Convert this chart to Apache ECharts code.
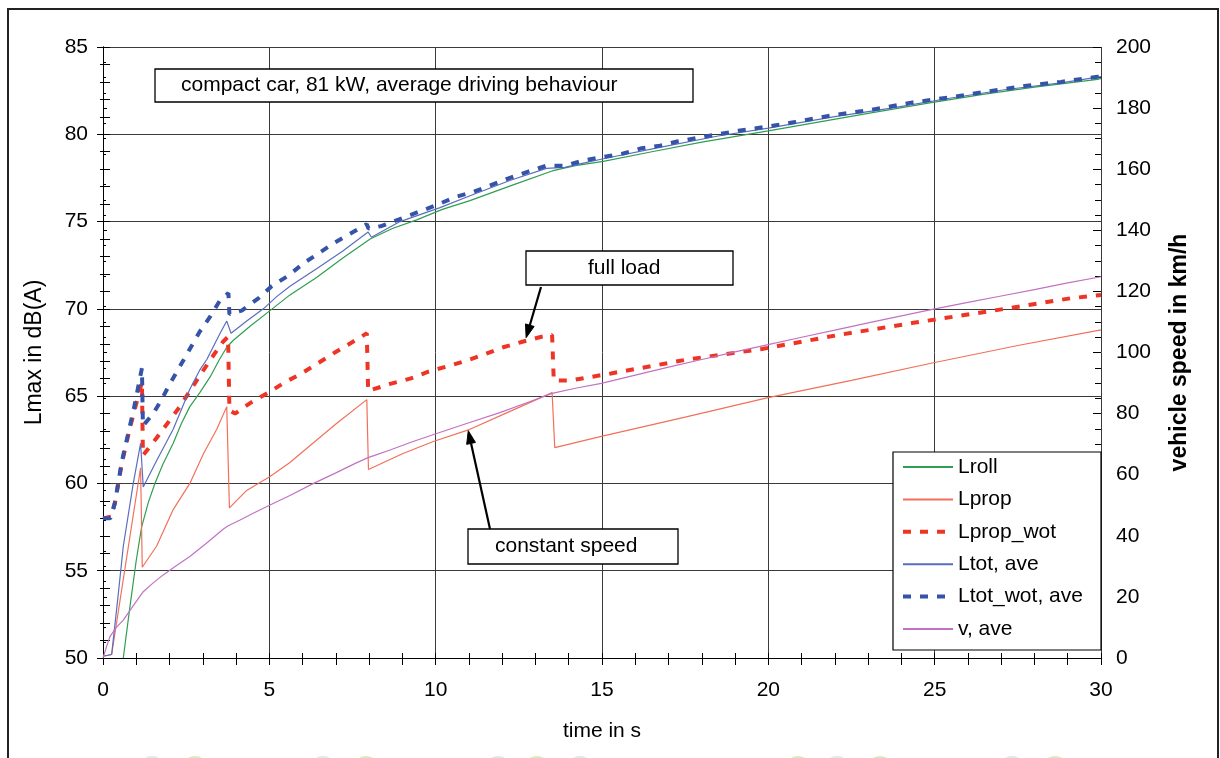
<!DOCTYPE html>
<html><head><meta charset="utf-8">
<script src="https://cdn.jsdelivr.net/npm/echarts@6/dist/echarts.min.js"></script>
<style>html,body{margin:0;padding:0;background:#fff}#c{width:1220px;height:758px}</style>
</head><body><div id="c"></div>
<script>
// ---- data ----
const seriesNames = ['Lroll', 'Lprop', 'Lprop_wot', 'Ltot, ave', 'Ltot_wot, ave', 'v, ave'];

const tLroll = [0.61,0.8,1.0,1.16,1.36,1.56,1.8,2.11,2.35,2.61,2.91,3.22,3.5,3.72,3.92,4.42,5.02,5.62,6.42,7.2,8.03,8.7,9.43,10.2,11.03,12.33,13.5,14.2,15.04,16.5,18.0,20.0,21.5,23.0,24.85,26.5,28.0,29.9,30];
const lroll  = [50.0,52.8,55.6,57.5,58.9,60.0,61.1,62.3,63.4,64.4,65.2,66.1,67.1,67.8,68.2,69.0,69.9,70.8,71.8,72.9,74.0,74.6,75.1,75.7,76.2,77.1,77.9,78.2,78.45,79.0,79.55,80.2,80.7,81.2,81.8,82.3,82.7,83.15,83.2];

const tLprop = [0,0.26,1.13,1.18,1.61,2.11,2.61,3.02,3.42,3.72,3.8,4.32,5.02,5.62,6.12,7.0,7.93,7.98,9.0,9.93,11.03,12.2,13.5,13.58,14.98,17.5,19.96,22.5,24.93,27.5,30];
const lprop  = [50.1,50.2,60.9,55.2,56.4,58.5,60.0,61.7,63.1,64.4,58.6,59.6,60.4,61.2,62.0,63.4,64.8,60.8,61.7,62.4,63.1,64.1,65.2,62.05,62.7,63.8,64.9,65.9,66.9,67.9,68.8];

const tLpropWot = [0,0.25,0.36,0.56,0.81,1.17,1.2,1.61,1.96,2.31,2.92,3.27,3.6,3.76,3.8,3.97,4.42,4.97,5.47,5.97,6.47,6.97,7.5,7.93,7.97,8.63,9.23,9.78,10.33,10.88,11.48,12.03,12.58,13.18,13.5,13.55,14.06,15.27,17.57,19.81,22.1,24.36,26.77,29.07,30];
const lpropWot  = [58.0,58.1,58.9,61.1,63.2,65.8,61.6,62.6,63.5,64.4,66.2,67.2,68.1,68.4,64.2,64.0,64.6,65.2,65.8,66.3,66.9,67.5,68.1,68.6,65.3,65.7,66.0,66.4,66.7,67.0,67.4,67.8,68.1,68.4,68.5,65.9,65.9,66.3,67.1,67.7,68.5,69.2,69.9,70.6,70.8];

const tLtot = [0,0.26,0.45,0.61,0.91,1.13,1.21,1.61,2.11,2.61,2.91,3.12,3.52,3.72,3.85,4.32,4.82,5.22,5.62,6.42,7.2,7.97,8.07,8.93,10.13,11.13,12.23,13.33,13.88,14.44,15.04,16.74,18.49,20.0,21.95,23.7,25.4,27.1,28.8,30];
const ltot  = [50.1,50.2,53.5,56.4,60.0,62.3,59.8,61.3,63.1,65.4,66.5,67.1,68.6,69.3,68.6,69.3,70.0,70.7,71.3,72.3,73.3,74.4,74.1,75.0,75.8,76.55,77.35,78.05,78.1,78.35,78.6,79.25,79.9,80.35,81.0,81.5,82.05,82.55,82.95,83.3];

const tLtotWot = [0,0.22,0.36,0.56,0.81,0.93,1.17,1.2,1.51,1.76,2.01,2.31,2.61,2.91,3.22,3.52,3.77,3.8,4.17,4.67,5.07,5.57,6.02,6.97,7.93,7.98,8.38,9.0,10.03,10.58,11.13,11.68,12.23,12.78,13.33,13.88,14.44,15.04,15.64,16.19,16.74,17.29,17.89,18.49,19.1,20.0,20.8,21.95,23.1,24.25,25.4,26.56,27.7,28.8,29.9,30];
const ltotWot  = [58.0,58.0,58.9,61.2,63.3,64.3,66.6,63.3,64.0,64.8,65.7,66.7,67.7,68.7,69.55,70.5,70.9,69.7,69.9,70.6,71.3,71.9,72.6,73.8,74.85,74.6,74.75,75.2,75.95,76.4,76.7,77.1,77.5,77.86,78.2,78.2,78.5,78.7,78.9,79.2,79.35,79.6,79.8,80.0,80.2,80.45,80.7,81.1,81.4,81.8,82.1,82.44,82.77,83.0,83.3,83.3];

const tV  = [0,0.1,0.21,0.4,0.61,0.9,1.21,1.5,1.81,2.2,2.61,3.1,3.62,3.75,4.12,4.5,5.02,5.62,6.3,7.0,7.6,7.95,8.1,8.63,9.3,10.03,11.0,11.93,12.8,13.5,14.2,14.98,16,17,18,19,19.96,21,22,23,24,24.93,26,27,28,29,30];
const vAve = [0,3.5,7.0,10.0,12.4,17.0,21.7,24.5,27.2,30.2,33.2,37.5,42.2,43.2,45.2,47.3,50.1,53.2,57.0,60.6,63.8,65.5,66.1,68.1,70.8,73.5,77.0,80.3,83.8,86.6,88.3,89.9,92.6,95.2,97.7,100.2,102.5,105.0,107.3,109.7,112.0,114.1,116.4,118.5,120.6,122.8,124.8];

const xRange = [0, 30, 5];      // min, max, interval (s)
const yLeftRange = [50, 85, 5]; // dB(A)
const yRightRange = [0, 200, 20]; // km/h

const titleText = 'compact car, 81 kW, average driving behaviour';
const fullLoadText = 'full load';
const constSpeedText = 'constant speed';
const fullLoadTip = [12.72, 68.35];   // data point the arrow points to (s, dB)
const constSpeedTip = [10.98, 74.4];  // (s, km/h)

// ---- chart ----
const FONT = '"Liberation Sans", Arial, sans-serif';
const zip = (a, b) => a.map((t, i) => [t, b[i]]);
const colors = ['#2f9e50', '#f2705a', '#ee3424', '#5a6dbf', '#3553a8', '#c272c2'];

const chart = echarts.init(document.getElementById('c'), null, {renderer: 'canvas'});

const tickBase = {lineStyle: {color: '#000', width: 1}};
function xAx(inside) {
  return {
    type: 'value', min: xRange[0], max: xRange[1], interval: xRange[2], position: 'bottom',
    axisLine: {show: !inside, lineStyle: {color: '#000', width: 1}},
    axisTick: Object.assign({show: true, inside: inside, length: inside ? 5 : 7}, tickBase),
    minorTick: Object.assign({show: true, splitNumber: 5, length: inside ? 5 : 7}, tickBase),
    axisLabel: {show: !inside, fontSize: 21, color: '#000', fontFamily: FONT, margin: 22},
    splitLine: {show: !inside, lineStyle: {color: '#3a3a3a', width: 1}},
    minorSplitLine: {show: false},
    name: inside ? '' : 'time in s', nameLocation: 'middle', nameGap: 63,
    nameTextStyle: {fontSize: 21, color: '#000', fontFamily: FONT}
  };
}
function yAx(side, range, inside, opts) {
  return Object.assign({
    type: 'value', min: range[0], max: range[1], interval: range[2], position: side,
    axisLine: {show: !inside, lineStyle: {color: '#000', width: 1}},
    axisTick: Object.assign({show: true, inside: inside}, tickBase),
    minorTick: Object.assign({show: true}, tickBase),
    axisLabel: {show: !inside, fontSize: 21, color: '#000', fontFamily: FONT, margin: 15},
    splitLine: {show: false}
  }, opts);
}

const yAxes = [
  yAx('left', yLeftRange, false, {
    axisTick: Object.assign({show: true, length: 6}, tickBase),
    minorTick: Object.assign({show: true, splitNumber: 5, length: 3}, tickBase),
    splitLine: {show: true, lineStyle: {color: '#3a3a3a', width: 1}},
    name: 'Lmax in dB(A)', nameLocation: 'middle', nameGap: 57, nameRotate: 90,
    nameTextStyle: {fontSize: 23, color: '#000', fontFamily: FONT}
  }),
  yAx('right', yRightRange, false, {
    axisTick: Object.assign({show: true, length: 4}, tickBase),
    minorTick: Object.assign({show: true, splitNumber: 4, length: 3}, tickBase),
    name: 'vehicle speed in km/h', nameLocation: 'middle', nameGap: 67, nameRotate: 90,
    nameTextStyle: {fontSize: 23, color: '#000', fontFamily: FONT, fontWeight: 'bold'}
  }),
  yAx('left', yLeftRange, true, {
    axisTick: Object.assign({show: true, inside: true, length: 7}, tickBase),
    minorTick: Object.assign({show: true, splitNumber: 5, length: 7}, tickBase)
  }),
  yAx('right', yRightRange, true, {
    axisTick: Object.assign({show: true, inside: true, length: 8}, tickBase),
    minorTick: Object.assign({show: true, splitNumber: 4, length: 6}, tickBase)
  })
];

const seriesData = [
  zip(tLroll, lroll), zip(tLprop, lprop), zip(tLpropWot, lpropWot),
  zip(tLtot, ltot), zip(tLtotWot, ltotWot), zip(tV, vAve)
];
const lineStyles = [
  {width: 1.2}, {width: 1.2}, {width: 4, type: [8, 9]},
  {width: 1.2}, {width: 4, type: [8, 9]}, {width: 1.2}
];
const series = seriesNames.map((n, i) => ({
  name: n, type: 'line', data: seriesData[i], xAxisIndex: 0, yAxisIndex: i === 5 ? 1 : 0,
  symbol: 'none', showSymbol: false, smooth: false, animation: false,
  lineStyle: Object.assign({color: colors[i]}, lineStyles[i]),
  itemStyle: {color: colors[i]}, z: 2 + i * 0.1
}));

const legendData = seriesNames.map((n, i) => ({
  name: n,
  lineStyle: {width: lineStyles[i].width > 2 ? 4 : 2, type: lineStyles[i].type || 'solid', color: colors[i]}
}));

chart.setOption({
  animation: false,
  backgroundColor: '#fff',
  grid: {left: 103, right: 119, top: 47, bottom: 100, containLabel: false},
  xAxis: [xAx(false), xAx(true)],
  yAxis: yAxes,
  legend: {
    orient: 'vertical', left: 901, top: 456, padding: 0,
    itemWidth: 50, itemHeight: 14, itemGap: 10.4, selectedMode: false, z: 20,
    itemStyle: {opacity: 0, color: 'rgba(0,0,0,0)', borderColor: 'rgba(0,0,0,0)', borderWidth: 0},
    lineStyle: {width: 'inherit'},
    textStyle: {fontSize: 21, color: '#000', fontFamily: FONT, lineHeight: 22},
    data: legendData
  },
  series: series
});

// ---- annotations ----
function arrow(x1, y1, x2, y2, z) {
  const dx = x2 - x1, dy = y2 - y1, L = Math.sqrt(dx * dx + dy * dy);
  const ux = dx / L, uy = dy / L, hl = 13, hw = 4.5;
  const bx = x2 - ux * hl, by = y2 - uy * hl;
  return [
    {type: 'line', z: z, shape: {x1: x1, y1: y1, x2: bx, y2: by}, style: {stroke: '#000', lineWidth: 2.2}},
    {type: 'polygon', z: z, shape: {points: [[x2, y2], [bx - uy * hw, by + ux * hw], [bx + uy * hw, by - ux * hw]]},
     style: {fill: '#000', stroke: '#000', lineWidth: 1}}
  ];
}
function box(x, y, w, h, text, tx, z) {
  return [
    {type: 'rect', z: z, shape: {x: x, y: y, width: w, height: h}, style: {fill: '#fff', stroke: '#000', lineWidth: 1.3}},
    {type: 'text', z: z + 1, x: tx, y: y + h / 2,
     style: {text: text, fill: '#000', font: '21px ' + FONT, textVerticalAlign: 'middle', textAlign: 'left'}}
  ];
}
const tip1 = chart.convertToPixel({xAxisIndex: 0, yAxisIndex: 0}, fullLoadTip);
const tip2 = chart.convertToPixel({xAxisIndex: 0, yAxisIndex: 1}, constSpeedTip);

const wmX = [152, 195, 323, 366, 498, 537, 580, 798, 837, 880, 1012, 1055];
const wmC = ['#e1e6e9', '#dbe9bd', '#e1e6e9', '#dbe9bd', '#e1e6e9', '#dbe9bd', '#e1e6e9', '#dbe9bd', '#e1e6e9', '#dbe9bd', '#e1e6e9', '#dbe9bd'];
const wm = wmX.map((x, i) => ({type: 'circle', z: 0, shape: {cx: x, cy: 770, r: 14}, style: {fill: wmC[i]}}));

const graphics = [].concat(
  [{type: 'rect', z: 0, shape: {x: 8, y: 9, width: 1210, height: 800}, style: {fill: 'none', stroke: '#222', lineWidth: 2}}],
  wm,
  [{type: 'rect', z: 15, shape: {x: 893, y: 452, width: 208, height: 198}, style: {fill: '#fff', stroke: '#000', lineWidth: 1.2}}],
  box(155, 69, 538, 33, titleText, 181, 15),
  box(526, 251, 207, 34, fullLoadText, 588, 15),
  box(468, 529, 210, 35, constSpeedText, 495, 15),
  arrow(541, 287, tip1[0], tip1[1], 16),
  arrow(490, 529, tip2[0], tip2[1], 16)
);
chart.setOption({graphic: {elements: graphics}});
</script></body></html>
